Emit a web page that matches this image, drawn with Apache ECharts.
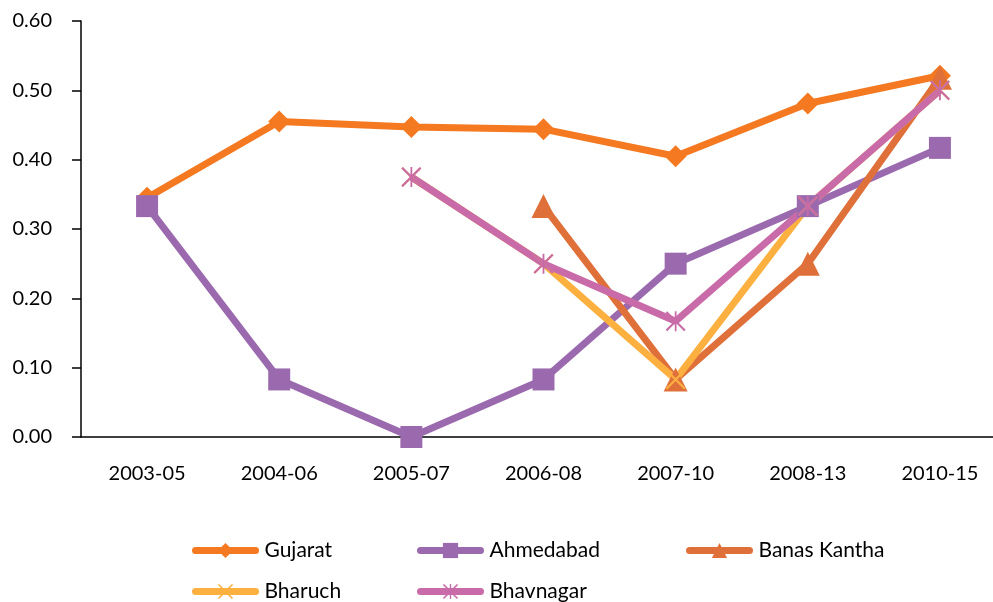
<!DOCTYPE html>
<html>
<head>
<meta charset="utf-8">
<script src="https://cdn.jsdelivr.net/npm/echarts@6/dist/echarts.min.js"></script>
<style>html,body{margin:0;padding:0;background:#fff;overflow:hidden}#c{width:1020px;height:602px}</style>
</head>
<body>
<div id="c"></div>
<script>
const categories = ['2003-05','2004-06','2005-07','2006-08','2007-10','2008-13','2010-15'];
const gujarat     = [0.345, 0.455, 0.447, 0.444, 0.405, 0.481, 0.521];
const ahmedabad   = [0.333, 0.083, 0.000, 0.083, 0.250, 0.333, 0.417];
const banasKantha = [null, null, null, 0.333, 0.083, 0.250, 0.518];
const bharuch     = [null, null, 0.375, 0.250, 0.083, 0.333, 0.500];
const bhavnagar   = [null, null, 0.375, 0.250, 0.167, 0.333, 0.500];
const yTicks = {min: 0, max: 0.6, interval: 0.1};

const FONT = 'Lato';
const xPath = 'path://M0,1.5 L1.5,0 L20,18.5 L18.5,20 Z M18.5,0 L20,1.5 L1.5,20 L0,18.5 Z';
const starPath = 'path://M0,1.5 L1.5,0 L20,18.5 L18.5,20 Z M18.5,0 L20,1.5 L1.5,20 L0,18.5 Z M9.1,0 L10.9,0 L10.9,20 L9.1,20 Z';

function mk(name, data, color, symbol, size) {
  return {
    name, type: 'line', data,
    symbol, symbolSize: size,
    lineStyle: {color, width: 7},
    itemStyle: {color},
    emphasis: {disabled: true},
    animation: false
  };
}

function lg(name, left, top) {
  return {
    orient: 'horizontal', left, top, itemWidth: 60, itemHeight: 19,
    textStyle: {fontFamily: FONT, fontSize: 21, color: '#000', padding: [0,0,0,4]},
    lineStyle: {width: 7, cap: 'round'},
    selectedMode: false,
    data: [name]
  };
}

const chart = echarts.init(document.getElementById('c'));
chart.setOption({
  backgroundColor: '#fff',
  animation: false,
  grid: {left: 81, top: 21, width: 925, height: 416},
  legend: [
    lg('Gujarat', 187, 535),
    lg('Ahmedabad', 412, 535),
    lg('Banas Kantha', 681, 535),
    lg('Bharuch', 187, 576),
    lg('Bhavnagar', 412, 576)
  ],
  xAxis: {
    type: 'category', data: categories, boundaryGap: true,
    axisLine: {lineStyle: {color: '#000', width: 1.5}},
    axisTick: {length: 8, lineStyle: {color: '#000', width: 1.5}},
    axisLabel: {fontFamily: FONT, fontSize: 20, color: '#000', margin: 27}
  },
  yAxis: {
    type: 'value', min: yTicks.min, max: yTicks.max, interval: yTicks.interval,
    axisLine: {show: true, lineStyle: {color: '#000', width: 1.5}},
    axisTick: {show: true, length: 9, lineStyle: {color: '#000', width: 1.5}},
    splitLine: {show: false},
    axisLabel: {fontFamily: FONT, fontSize: 20, color: '#000', margin: 29,
      formatter: v => v.toFixed(2)}
  },
  series: [
    mk('Gujarat', gujarat, '#F47920', 'diamond', 22),
    mk('Ahmedabad', ahmedabad, '#9B6AAE', 'rect', 22),
    mk('Banas Kantha', banasKantha, '#E0703A', 'triangle', 24),
    mk('Bharuch', bharuch, '#FBB040', xPath, 20),
    mk('Bhavnagar', bhavnagar, '#C86BA8', starPath, 20)
  ]
});
</script>
</body>
</html>
